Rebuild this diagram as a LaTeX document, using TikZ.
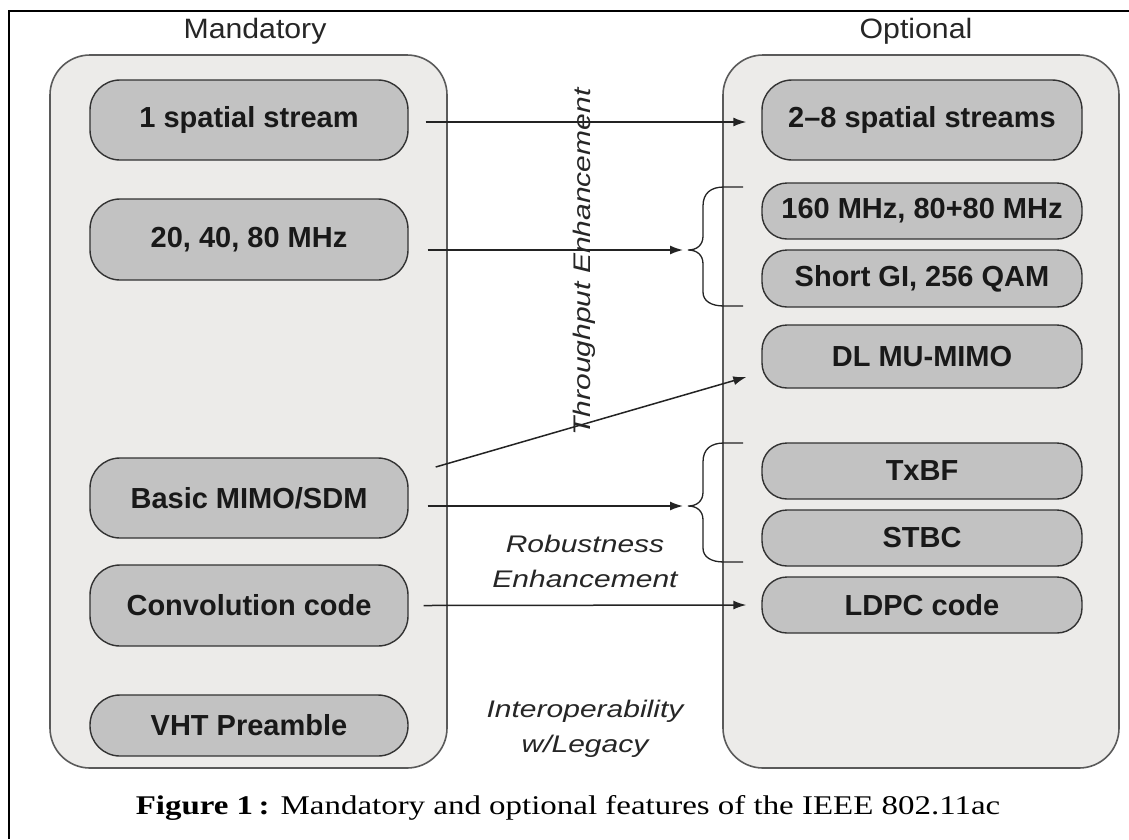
\documentclass[tikz,border=0pt]{standalone}
\usepackage{graphicx}
\usepackage{fontspec}
\setmainfont{Liberation Sans}
\newfontfamily\capfont{Liberation Serif}
\usetikzlibrary{arrows.meta}
\definecolor{outerfill}{RGB}{236,235,233}
\definecolor{innerfill}{RGB}{194,194,194}
\definecolor{outerline}{RGB}{90,90,90}
\definecolor{innerline}{RGB}{50,50,50}
\definecolor{arrowline}{RGB}{35,35,35}
\begin{document}
\begin{tikzpicture}[x=1pt,y=-1pt,
 outerbox/.style={draw=outerline, fill=outerfill, line width=1.6pt, rounded corners=40pt, inner sep=0pt},
 bigbox/.style={draw=innerline, fill=innerfill, line width=1.4pt, rounded corners=30pt, minimum width=318pt, minimum height=80pt, inner sep=0pt, font=\fontsize{29}{31}\selectfont\bfseries, text=black!90},
 smallbox/.style={draw=innerline, fill=innerfill, line width=1.4pt, rounded corners=25pt, minimum width=320pt, minimum height=56pt, inner sep=0pt, font=\fontsize{29}{31}\selectfont\bfseries, text=black!90},
 head/.style={font=\fontsize{28}{30}\selectfont, text=black!85, anchor=base},
 note/.style={font=\fontsize{24}{35}\selectfont\itshape, align=center, text=black!85},
 arr/.style={draw=arrowline, line width=1.5pt, -{Latex[length=13pt,width=9pt]}},
 brace/.style={draw=arrowline, line width=1.3pt},
]
\useasboundingbox (0,0) rectangle (1129,839);
\fill[white] (0,0) rectangle (1129,839);
\draw[line width=2pt] (9,839) -- (9,11) -- (1129,11);

% outer containers
\node[outerbox, minimum width=397pt, minimum height=713pt] (mand) at (248.5,411.5) {};
\node[outerbox, minimum width=396pt, minimum height=713pt] (opt) at (921,411.5) {};

\node[head] (mandlbl) at (255,38) {\scalebox{1.08}[1]{Mandatory}};
\node[head] (optlbl) at (916,38) {\scalebox{1.08}[1]{Optional}};

% mandatory features
\node[bigbox] (s1) at (249,120) {1 spatial stream};
\node[bigbox, minimum height=81pt] (bw) at (249,239.5) {20, 40, 80 MHz};
\node[bigbox] (mimo) at (249,498) {Basic MIMO/SDM};
\node[bigbox, minimum height=81pt] (conv) at (249,605.5) {Convolution code};
\node[bigbox, minimum height=61pt] (vht) at (249,725.5) {VHT Preamble};

% optional features
\node[bigbox, minimum width=320pt] (s28) at (922,120) {2–8 spatial streams};
\node[smallbox] (mhz) at (922,211) {160 MHz, 80+80 MHz};
\node[smallbox, minimum height=57pt] (sgi) at (922,278.5) {Short GI, 256 QAM};
\node[smallbox, minimum height=63pt] (dlmu) at (922,356.5) {DL MU-MIMO};
\node[smallbox] (txbf) at (922,471) {TxBF};
\node[smallbox] (stbc) at (922,538) {STBC};
\node[smallbox] (ldpc) at (922,605) {LDPC code};

% brace tips
\coordinate (b1) at (688,250);
\coordinate (b2) at (688,506);

% braces
\draw[brace] (743,187) -- (724,187) .. controls (711,187) and (703,193) .. (703,206) -- (703,236)
  .. controls (703,245) and (697,250) .. (b1)
  .. controls (697,250) and (703,255) .. (703,264) -- (703,292)
  .. controls (703,301) and (711,306) .. (724,306) -- (743,306);
\draw[brace] (743,443) -- (724,443) .. controls (711,443) and (703,449) .. (703,462) -- (703,492)
  .. controls (703,501) and (697,506) .. (b2)
  .. controls (697,506) and (703,511) .. (703,520) -- (703,548)
  .. controls (703,557) and (711,562) .. (724,562) -- (743,562);

% connectors
\draw[arr] ([shift={(17,2)}]s1.east) -- ([shift={(-15,2)}]s28.west);
\draw[arr] ([xshift=19pt]bw.east |- b1) -- ([xshift=-5pt]b1);
\draw[arr] ([xshift=19pt]mimo.east |- b2) -- ([xshift=-5pt]b2);
\draw[arr] ([shift={(27,-31)}]mimo.east) -- ([shift={(-15,20.5)}]dlmu.west);
\draw[arr] ([xshift=15pt]conv.east) -- ([xshift=-15pt]ldpc.west);

% annotations
\node[note, rotate=90] (thr) at (584,262) {\scalebox{1.25}[1]{Throughput Enhancement}};
\node[note] (rob) at (585,561) {\scalebox{1.25}[1]{Robustness}\\\scalebox{1.25}[1]{Enhancement}};
\node[note] (inter) at (585,729) {\scalebox{1.25}[1]{Interoperability}\\\scalebox{1.25}[1]{w/Legacy}};

% caption
\node[anchor=base, font=\capfont\fontsize{27}{30}\selectfont] (cap) at (568,814)
  {\scalebox{1.22}[1]{\textbf{Figure 1\,:} Mandatory and optional features of the IEEE 802.11ac}};
\end{tikzpicture}
\end{document}
